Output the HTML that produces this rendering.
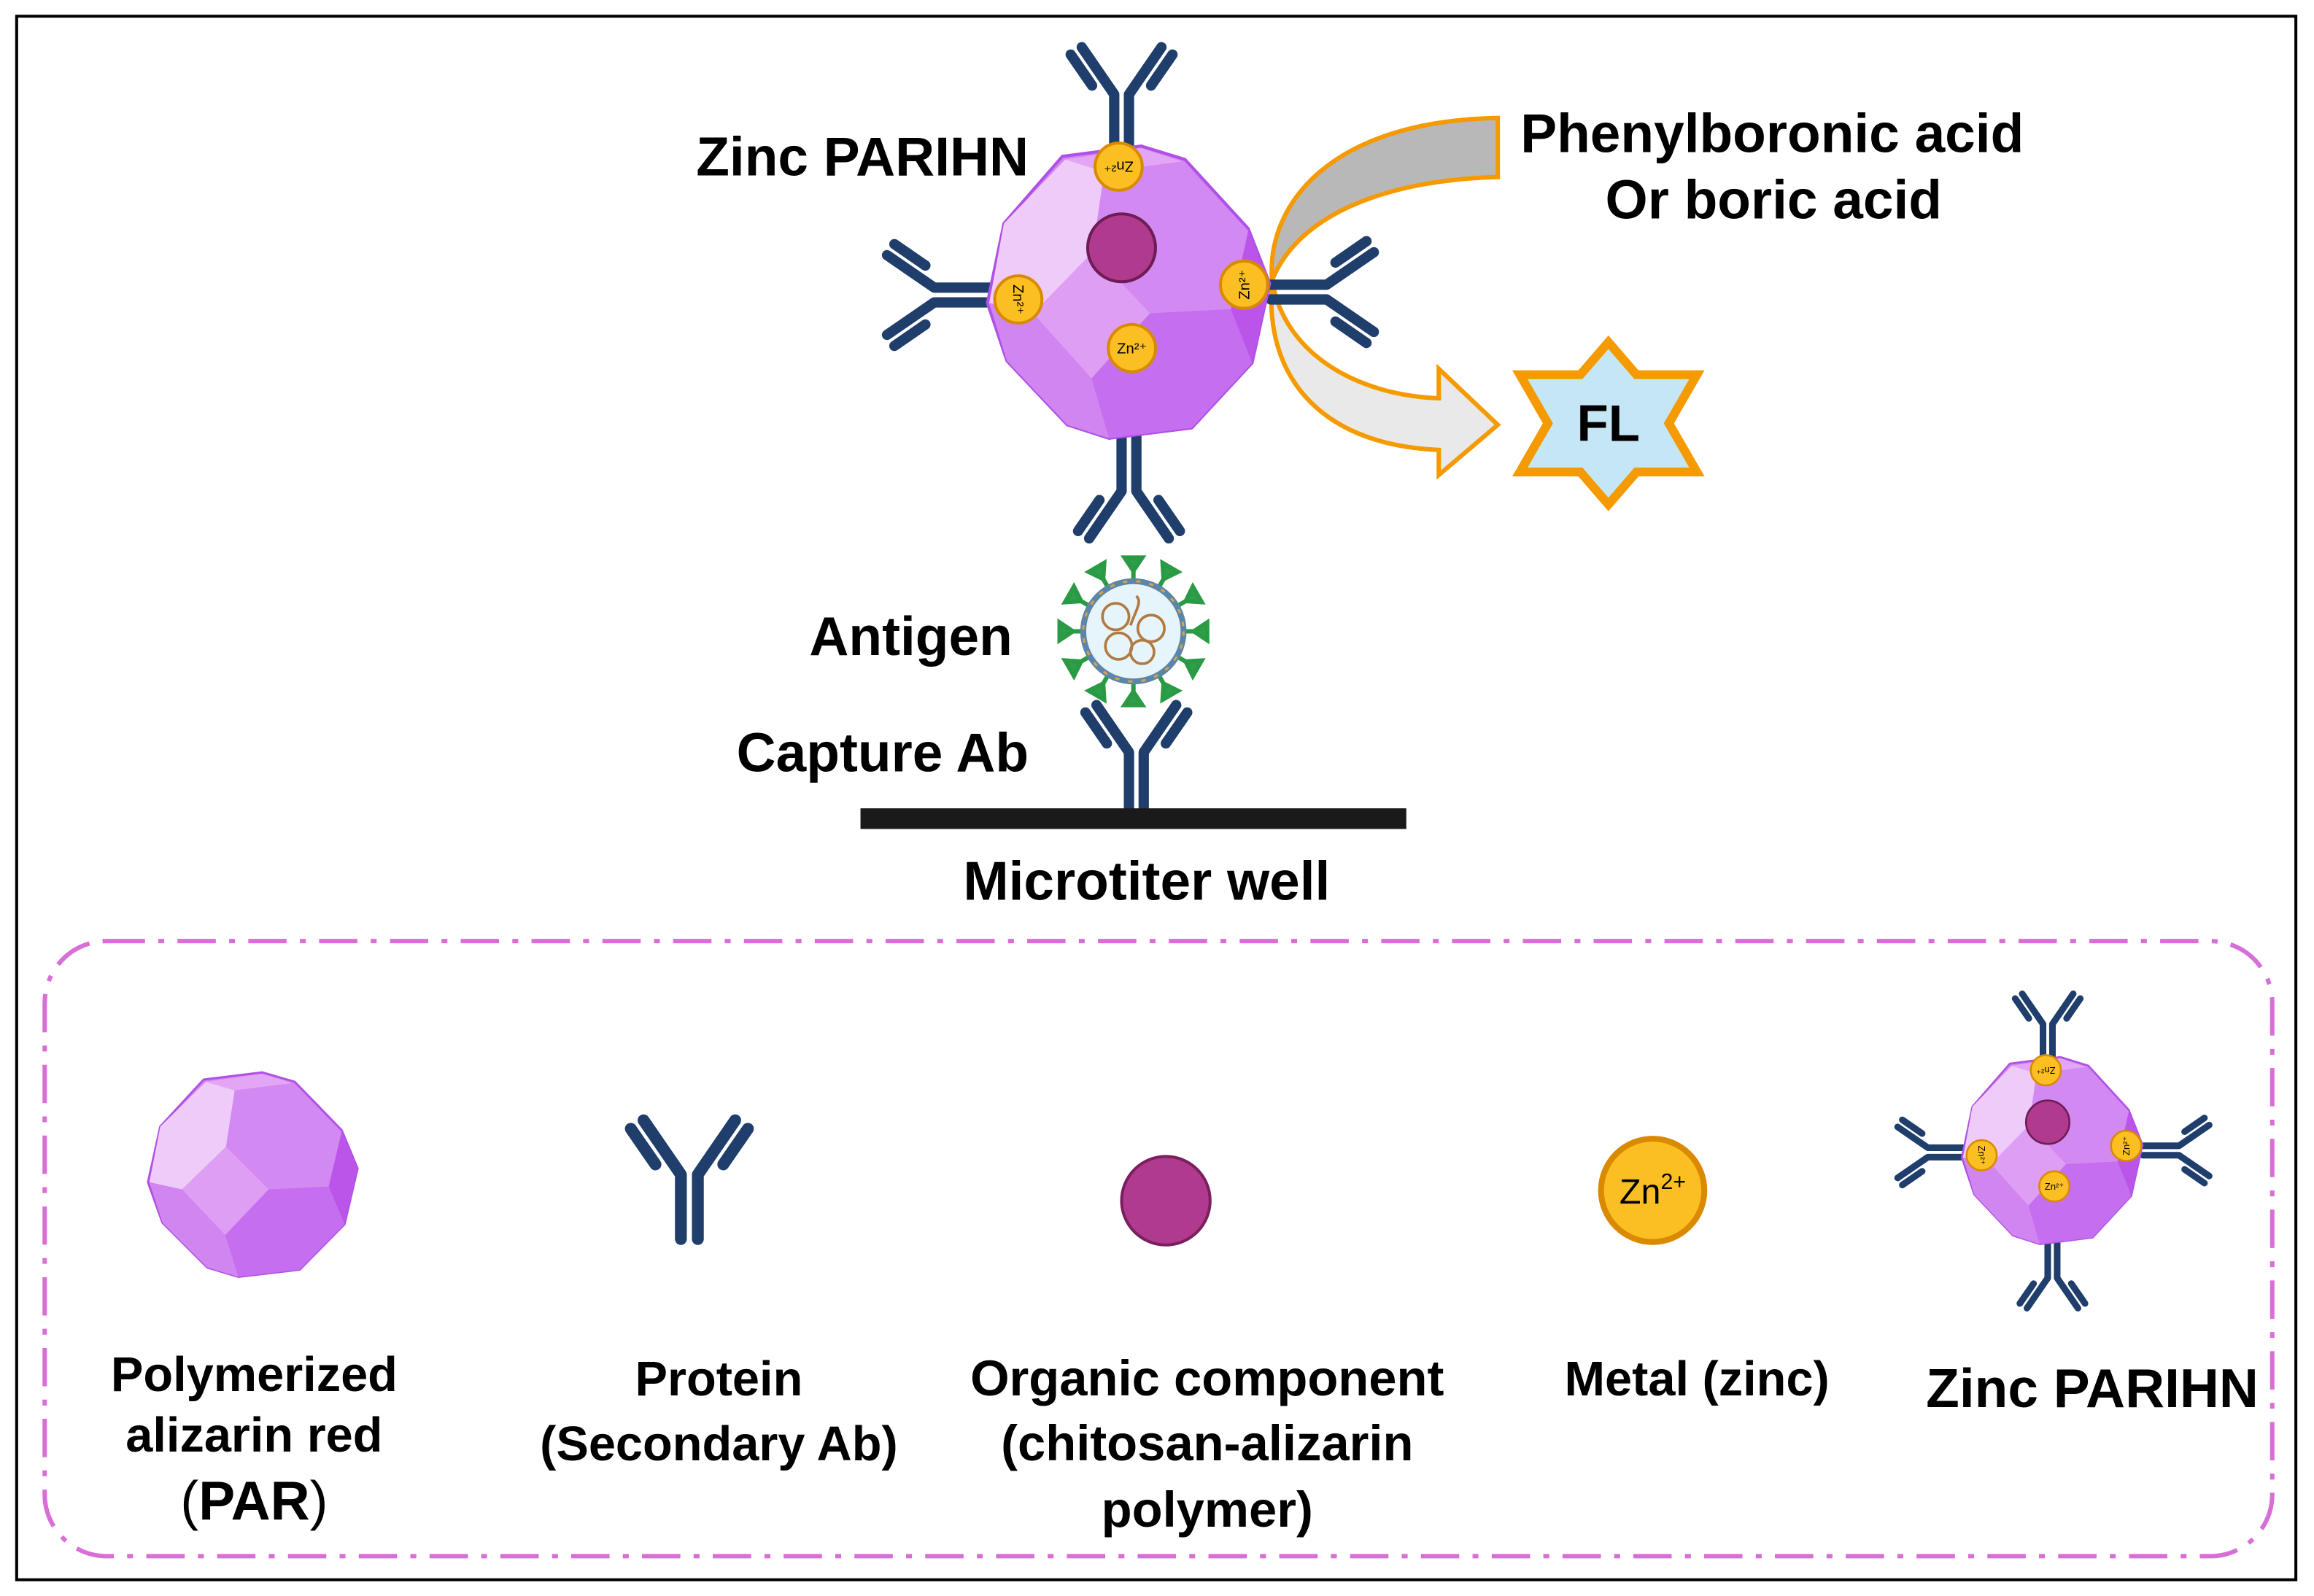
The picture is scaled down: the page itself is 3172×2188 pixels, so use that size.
<!DOCTYPE html>
<html><head><meta charset="utf-8"><style>
html,body{margin:0;padding:0;background:#fff}
svg{display:block}
text{font-family:"Liberation Sans",Arial,sans-serif;font-weight:bold;fill:#000}
</style></head><body>
<svg width="3172" height="2188" viewBox="0 0 1568 1082" xmlns="http://www.w3.org/2000/svg">
<defs>
<g id="ab" fill="none" stroke="#1f3e6b" stroke-width="7" stroke-linecap="round" stroke-linejoin="round">
<path d="M-5,0 V-38 L-27,-70 M5,0 V-38 L27,-70 M-20,-44 L-34.5,-65 M20,-44 L34.5,-65"/>
</g>
<g id="poly" stroke="none">
<polygon points="77,10 158,0 203,13 268,80 290,133 272,210 210,273 125,283 82,270 20,208 0,152 17,75" fill="#d287f2" stroke="#b050e6" stroke-width="3"/>
<polygon points="80,13 158,2 200,15 120,25" fill="#e3a6f4"/>
<polygon points="80,13 120,25 108,103 47,162 2,152 17,75" fill="#eecbf8"/>
<polygon points="120,25 200,15 268,82 250,158 167,162 108,103" fill="#d389f2"/>
<polygon points="108,103 167,162 107,225 47,162" fill="#dd9ef3"/>
<polygon points="2,152 47,162 107,225 125,283 82,270 20,208" fill="#d185f1"/>
<polygon points="167,162 250,158 272,210 210,273 125,283 107,225" fill="#c56ef0"/>
<polygon points="268,82 290,133 272,210 250,158" fill="#bb55ea"/>
</g>
<g id="zn">
<circle r="16" fill="#fbbf24" stroke="#d98a00" stroke-width="2"/>
<text x="0" y="3.5" font-size="10" text-anchor="middle" style="font-weight:normal" fill="#5a3a00">Zn²⁺</text>
</g>
<g id="par">
<use href="#ab" transform="translate(-5,-96)"/>
<use href="#ab" transform="translate(0,97) rotate(180)"/>
<use href="#ab" transform="translate(-94,2) rotate(-90)"/>
<use href="#ab" transform="translate(96,0) rotate(90)"/>
<g transform="translate(-96,-99) scale(0.66,0.70)"><use href="#poly"/></g>
<circle cx="-5" cy="-30" r="23" fill="#b03a8e" stroke="#6e1c55" stroke-width="2"/>
<use href="#zn" transform="translate(-7,-85) rotate(180)"/>
<use href="#zn" transform="translate(-75,5) rotate(90)"/>
<use href="#zn" transform="translate(78,-5) rotate(-90)"/>
<use href="#zn" transform="translate(2,38)"/>
</g>
</defs>

<rect x="11" y="11" width="1545" height="1060" fill="none" stroke="#000" stroke-width="2"/>

<path d="M1015,80 L1015,120 C940,122 880,145 862,190 C858,140 900,82 1015,80 Z" fill="#b8b8b8" stroke="#f59a00" stroke-width="3"/>
<path d="M862,190 C870,240 920,268 975,270 L975,250 L1015,288 L975,322 L975,305 C900,302 856,260 862,190 Z" fill="#e9e9e9" stroke="#f59a00" stroke-width="3"/>

<use href="#par" transform="translate(765,198)"/>

<polygon points="1090,232 1109,254 1150,254 1131,287 1150,320 1109,320 1090,342 1071,320 1030,320 1049,287 1030,254 1071,254" fill="#c5e6f5" stroke="#f59a00" stroke-width="6"/>
<text x="1090" y="299" font-size="35" text-anchor="middle">FL</text>

<text x="697" y="119" font-size="37" text-anchor="end">Zinc PARIHN</text>
<text x="1201" y="103" font-size="37" text-anchor="middle">Phenylboronic acid</text>
<text x="1202" y="148" font-size="37" text-anchor="middle">Or boric acid</text>

<g transform="translate(768,428)">
<g stroke="#2a9a44" stroke-width="3" fill="#2f9e4a">
<g id="sp"><line x1="0" y1="-34" x2="0" y2="-44"/><path d="M0,-41 L-6,-50 L6,-50 Z"/></g>
<use href="#sp" transform="rotate(30)"/><use href="#sp" transform="rotate(60)"/><use href="#sp" transform="rotate(90)"/>
<use href="#sp" transform="rotate(120)"/><use href="#sp" transform="rotate(150)"/><use href="#sp" transform="rotate(180)"/>
<use href="#sp" transform="rotate(210)"/><use href="#sp" transform="rotate(240)"/><use href="#sp" transform="rotate(270)"/>
<use href="#sp" transform="rotate(300)"/><use href="#sp" transform="rotate(330)"/>
</g>
<circle r="34" fill="#e6f4fb" stroke="#5b86a8" stroke-width="4"/>
<circle r="34" fill="none" stroke="#d8a24a" stroke-width="1.5" stroke-dasharray="3 6"/>
<g fill="none" stroke="#b07a40" stroke-width="1.8">
<circle cx="-12" cy="-10" r="9"/><circle cx="12" cy="-2" r="9"/><circle cx="-10" cy="10" r="9"/><circle cx="6" cy="14" r="8"/>
<path d="M-2,-4 C2,-15 6,-20 2,-24"/>
</g>
</g>
<text x="686" y="444" font-size="37" text-anchor="end">Antigen</text>
<text x="697" y="523" font-size="37" text-anchor="end">Capture Ab</text>
<use href="#ab" transform="translate(770,548)"/>
<rect x="583" y="548" width="370" height="14" fill="#1a1a1a"/>
<text x="777" y="610" font-size="37" text-anchor="middle">Microtiter well</text>

<rect x="30" y="638" width="1510" height="417" rx="42" ry="42" fill="none" stroke="#d86fd6" stroke-width="3" stroke-dasharray="26 9 4 9"/>

<g transform="translate(100,727) scale(0.49)"><use href="#poly"/></g>
<use href="#ab" transform="translate(467,840) scale(1.15)"/>
<circle cx="790" cy="814" r="30" fill="#b03a8e" stroke="#7a1f5f" stroke-width="2"/>
<circle cx="1120" cy="807" r="35" fill="#fbbf24" stroke="#d98a00" stroke-width="4"/>
<text x="1120" y="816" font-size="24" text-anchor="middle" style="font-weight:normal" fill="#4a3000">Zn<tspan font-size="15" dy="-10">2+</tspan></text>
<use href="#par" transform="translate(1391,780) scale(0.64)"/>

<text x="172" y="943" font-size="33" text-anchor="middle">Polymerized</text>
<text x="172" y="984" font-size="33" text-anchor="middle">alizarin red</text>
<text x="172" y="1030" font-size="37" text-anchor="middle" style="font-weight:normal">(<tspan style="font-weight:bold">PAR</tspan>)</text>
<text x="487" y="946" font-size="33" text-anchor="middle">Protein</text>
<text x="487" y="990" font-size="33" text-anchor="middle">(Secondary Ab)</text>
<text x="818" y="946" font-size="34" text-anchor="middle">Organic component</text>
<text x="818" y="990" font-size="34" text-anchor="middle">(chitosan-alizarin</text>
<text x="818" y="1035" font-size="34" text-anchor="middle">polymer)</text>
<text x="1150" y="946" font-size="33" text-anchor="middle">Metal (zinc)</text>
<text x="1418" y="954" font-size="37" text-anchor="middle">Zinc PARIHN</text>
</svg>
</body></html>
